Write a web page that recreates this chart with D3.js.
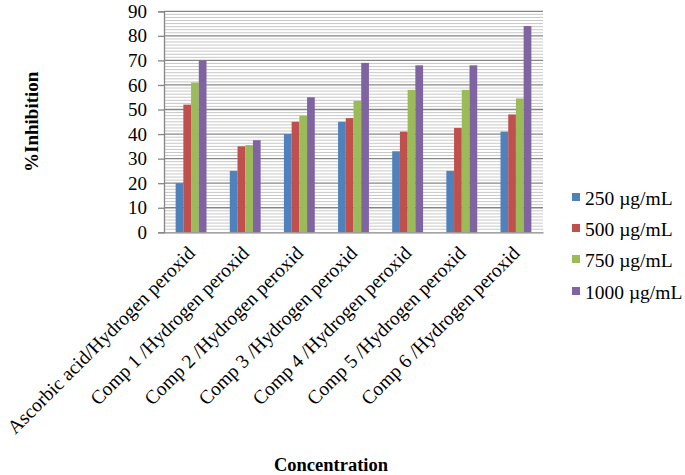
<!DOCTYPE html>
<html><head><meta charset="utf-8">
<script src="https://cdn.jsdelivr.net/npm/d3@7"></script>
<style>body{margin:0;background:#fff}svg{display:block}</style>
</head><body><svg id="c" width="685" height="475"></svg>
<script>
const categories = ["Ascorbic acid/Hydrogen peroxid","Comp 1 /Hydrogen peroxid","Comp 2 /Hydrogen peroxid","Comp 3 /Hydrogen peroxid","Comp 4 /Hydrogen peroxid","Comp 5 /Hydrogen peroxid","Comp 6 /Hydrogen peroxid"];
const seriesNames = ["250 µg/mL","500 µg/mL","750 µg/mL","1000 µg/mL"];
const s250 = [20, 25, 40, 45, 33, 25, 41];
const s500 = [52, 35, 45, 46.5, 41, 42.5, 48];
const s750 = [61, 35.5, 47.5, 53.5, 58, 58, 54.5];
const s1000 = [70, 37.5, 55, 69, 68, 68, 84];
const yTicks = [0,10,20,30,40,50,60,70,80,90];
const colors = ["#4F81BD","#C0504D","#9BBB59","#8064A2"];
const seriesVals = [s250, s500, s750, s1000];

const svg = d3.select("#c");
const font = "'Liberation Serif','Times New Roman',serif";
const L = 164, R = 543, T = 11.3, B = 232.3;
const x = d3.scaleBand().domain(categories).range([L, R]).paddingInner(0.43).paddingOuter(0.215);
const x1 = d3.scaleBand().domain(seriesNames).range([0, x.bandwidth()]);
const y = d3.scaleLinear().domain([0, 90]).range([B, T]);

// minor gridlines
const minor = d3.range(0, 90.001, 1.25).filter(v => Math.abs(v/10 - Math.round(v/10)) > 1e-6);
svg.append("g").selectAll("line").data(minor).join("line")
  .attr("x1", L).attr("x2", R).attr("y1", d => y(d)).attr("y2", d => y(d))
  .attr("stroke", "#c8c8c8").attr("stroke-width", 1);
// major gridlines
svg.append("g").selectAll("line").data(yTicks.slice(1)).join("line")
  .attr("x1", L).attr("x2", R).attr("y1", d => y(d)).attr("y2", d => y(d))
  .attr("stroke", "#868686").attr("stroke-width", 1.3);

// bars
const g = svg.append("g");
categories.forEach((c, i) => {
  seriesVals.forEach((s, j) => {
    g.append("rect")
      .attr("x", x(c) + x1(seriesNames[j]))
      .attr("width", x1.bandwidth())
      .attr("y", y(s[i]))
      .attr("height", y(0) - y(s[i]))
      .attr("fill", colors[j]);
  });
});

// y axis
const ya = svg.append("g").attr("transform", `translate(${L},0)`)
  .call(d3.axisLeft(y).tickValues(yTicks).tickSize(6).tickPadding(11).tickFormat(d3.format("d")));
ya.select(".domain").attr("stroke", "#868686").attr("stroke-width", 1.3);
ya.selectAll(".tick line").attr("stroke", "#868686").attr("stroke-width", 1.3);
ya.selectAll("text").attr("font-family", font).attr("font-size", 19).attr("fill", "#000");

// x axis
const xa = svg.append("g").attr("transform", `translate(0,${B})`)
  .call(d3.axisBottom(x).tickSize(0).tickPadding(0));
xa.select(".domain").attr("stroke", "#868686").attr("stroke-width", 1.3);
xa.selectAll(".tick text")
  .attr("font-family", font).attr("font-size", 19.5).attr("fill", "#000")
  .attr("text-anchor", "end").attr("dy", "0")
  .attr("transform", "translate(5,22) rotate(-45)");

// axis titles
svg.append("text").attr("transform", `translate(38,${(T+B)/2}) rotate(-90)`)
  .attr("text-anchor", "middle").attr("font-family", font).attr("font-weight", "bold")
  .attr("font-size", 19).text("%Inhibition");
svg.append("text").attr("x", 331).attr("y", 471)
  .attr("text-anchor", "middle").attr("font-family", font).attr("font-weight", "bold")
  .attr("font-size", 18.5).text("Concentration");

// legend
const lg = svg.append("g");
const legY = [199, 230, 261, 293];
seriesNames.forEach((n, j) => {
  lg.append("rect").attr("x", 572).attr("y", legY[j] - 6).attr("width", 8).attr("height", 8).attr("fill", colors[j]);
  lg.append("text").attr("x", 585).attr("y", legY[j] + 6).attr("font-family", font)
    .attr("font-size", 19.5).attr("fill", "#000").text(n);
});
</script></body></html>
